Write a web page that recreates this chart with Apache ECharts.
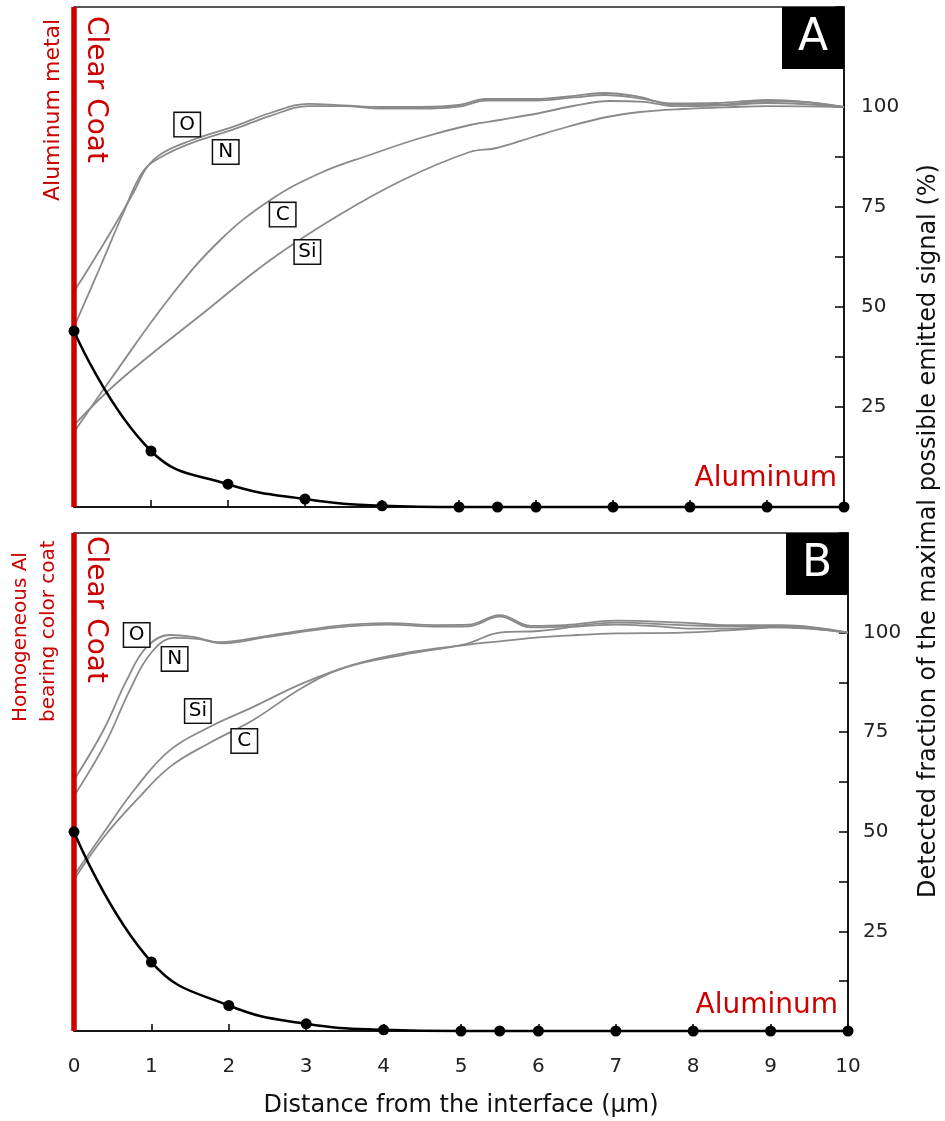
<!DOCTYPE html>
<html><head><meta charset="utf-8">
<script src="https://cdn.jsdelivr.net/npm/echarts@6/dist/echarts.min.js"></script>
<style>html,body{margin:0;padding:0;background:#fff}#c{width:945px;height:1121px}</style>
</head><body><div id="c"></div>
<script>
// ---- data ----
const dotX = [0, 1, 2, 3, 4, 5, 5.5, 6, 7, 8, 9, 10];
const alA = [44, 14, 5.7, 2, 0.3, 0, 0, 0, 0, 0, 0, 0];
const alB = [50, 17.3, 6.4, 1.8, 0.3, 0, 0, 0, 0, 0, 0, 0];

const aO = [[0,54],[0.12,57.5],[0.47,68.5],[0.77,78.5],[0.95,85],[1.15,88.5],[1.5,91.5],[2.1,95.3],[2.55,98.5],[3.05,100.8],[3.5,100.4],[4,100],[4.5,100],[5,100.5],[5.35,102],[6,102],[6.5,102.8],[6.9,103.5],[7.3,102.7],[7.8,100.6],[8.35,100.6],[9,101.5],[9.5,101.2],[10,100]];
const aN = [[0,45],[0.34,60],[0.64,73.5],[0.9,84],[1.15,87.7],[1.5,90.8],[2.1,94.6],[2.55,97.8],[3.05,100.2],[3.5,100.2],[4,99.6],[4.5,99.6],[5,100.1],[5.35,101.6],[6,101.6],[6.5,102.4],[6.9,103],[7.3,102.3],[7.8,100.9],[8.35,101],[9,101.8],[9.5,101.3],[10,100]];
const aC = [[0,18.75],[0.47,31.75],[1.25,52.5],[1.9,66.75],[2.55,76.75],[3.2,83.5],[3.84,88],[4.5,92.25],[5.14,95.5],[5.53,96.75],[6.05,98.5],[6.48,100.25],[6.96,101.5],[7.39,101.3],[7.83,100.2],[8.5,100.5],[9,101],[10,100]];
const aSi = [[0,20.5],[0.6,31.75],[1.68,48.5],[2.55,61.75],[3.4,72.5],[4.27,81.75],[5.14,88.75],[5.49,89.75],[5.96,92.5],[6.4,95],[6.92,97.5],[7.35,98.75],[7.9,99.5],[8.56,100],[9,100.2],[10,100]];

const bO = [[0,63],[0.38,75.5],[0.68,88],[0.94,96.4],[1.24,99.4],[1.54,98.9],[1.88,97.6],[2.5,99.2],[3.4,101.7],[4.05,102.4],[4.7,101.9],[5.1,102],[5.5,104.4],[5.9,101.7],[6.35,101.9],[7,103],[7.86,102.5],[8.5,101.9],[9.15,101.9],[10,100]];
const bN = [[0,59],[0.4,72],[0.72,85.5],[1.0,95],[1.3,98.7],[1.6,98.4],[1.92,97.3],[2.5,98.9],[3.4,101.3],[4.05,102],[4.7,101.5],[5.1,101.6],[5.5,104],[5.9,101.3],[6.35,101.5],[7,102.5],[7.86,101.9],[8.5,101.6],[9.15,101.6],[10,100]];
const bSi = [[0,39],[0.38,49.7],[0.81,61.3],[1.24,70.5],[1.75,76.3],[2.31,81.3],[2.96,87.3],[3.6,91.9],[4.25,94.8],[5.1,97],[5.5,97.8],[6,98.8],[6.5,99.4],[7,99.8],[7.86,100],[8.5,100.6],[9.15,101.3],[10,100]];
const bC = [[0,38],[0.38,48.5],[0.81,58],[1.24,66.3],[1.75,72.3],[2.31,78],[2.96,86.3],[3.5,91.2],[4.25,94.4],[5.07,97.2],[5.5,100],[6,100.4],[6.5,101.5],[7,102],[7.5,101.6],[8,101],[8.5,101],[9,101.4],[9.5,101],[10,100]];

const labelsA = [['O',1.47,95.6],['N',1.97,88.75],['C',2.71,73.1],['Si',3.03,63.75]];
const labelsB = [['O',0.81,99.4],['N',1.3,93.4],['Si',1.6,80.3],['C',2.2,72.8]];

const yTicks = [25, 50, 75, 100];
const interfaceX = 0;
const xTitle = 'Distance from the interface (µm)';
const yTitle = 'Detected fraction of the maximal possible emitted signal (%)';

// ---- chart ----
const FF = 'DejaVu Sans';
const RED = '#cc0000';
const GREY = '#8a8a8a';
const chart = echarts.init(document.getElementById('c'), null, {renderer: 'canvas'});

function xAx(g, showLabels) {
  return {
    gridIndex: g, type: 'value', min: 0, max: 10, interval: 1,
    axisLine: {show: true, onZero: false, lineStyle: {color: '#000', width: 1.5}},
    axisTick: {show: true, inside: true, length: 7, lineStyle: {color: '#000', width: 1.5}},
    axisLabel: {show: showLabels, margin: 26, fontSize: 20, fontFamily: FF, color: '#222'},
    splitLine: {show: false},
    name: showLabels ? xTitle : '', nameLocation: 'middle', nameGap: 63,
    nameTextStyle: {fontSize: 24, fontFamily: FF, color: '#111'}
  };
}
function yAx(g, margin) {
  return {
    gridIndex: g, type: 'value', position: 'right', min: 0, max: 125, interval: 25,
    axisLine: {show: true, onZero: false, lineStyle: {color: '#000', width: 1.5}},
    axisTick: {show: true, inside: true, length: 9, lineStyle: {color: '#000', width: 1.5}},
    minorTick: {show: true, splitNumber: 2, length: 9, lineStyle: {color: '#000', width: 1.5}},
    axisLabel: {margin: margin, fontSize: 20, fontFamily: FF, color: '#222',
      formatter: v => yTicks.indexOf(v) >= 0 ? String(v) : ''},
    splitLine: {show: false}, minorSplitLine: {show: false}
  };
}
function grey(g, d) {
  return {type: 'line', xAxisIndex: g, yAxisIndex: g, data: d, smooth: 0.4, symbol: 'none',
    lineStyle: {color: GREY, width: 1.8}, z: 2, silent: true};
}
function al(g, vals) {
  return {type: 'line', xAxisIndex: g, yAxisIndex: g, data: dotX.map((x, i) => [x, vals[i]]),
    smooth: 0.45, symbol: 'circle', symbolSize: 11, showAllSymbol: true,
    itemStyle: {color: '#000'}, lineStyle: {color: '#000', width: 2.5}, z: 6, clip: false};
}
function iface(g) {
  return {type: 'line', xAxisIndex: g, yAxisIndex: g, data: [[interfaceX, 0], [interfaceX, 125]],
    symbol: 'none', lineStyle: {color: RED, width: 5.5}, z: 4, clip: false, silent: true};
}
function labs(g, arr) {
  return {type: 'scatter', xAxisIndex: g, yAxisIndex: g, symbolSize: 1, z: 8, silent: true,
    itemStyle: {opacity: 0},
    data: arr.map(l => ({name: l[0], value: [l[1], l[2]]})),
    label: {show: true, position: 'inside', formatter: p => p.name, fontFamily: FF, fontSize: 20,
      color: '#000', opacity: 1, backgroundColor: '#fff', borderColor: '#111', borderWidth: 1.5,
      padding: [2, 4, 1, 4], width: 17, lineHeight: 20, align: 'center'}};
}

const option = {
  animation: false,
  backgroundColor: '#fff',
  grid: [
    {left: 74, top: 7, width: 770, height: 500, show: true, borderColor: '#222', borderWidth: 1.5, backgroundColor: 'transparent'},
    {left: 74, top: 533, width: 774, height: 498, show: true, borderColor: '#222', borderWidth: 1.5, backgroundColor: 'transparent'}
  ],
  xAxis: [xAx(0, false), xAx(1, true)],
  yAxis: [yAx(0, 17), yAx(1, 15)],
  series: [
    grey(0, aO), grey(0, aN), grey(0, aC), grey(0, aSi),
    grey(1, bO), grey(1, bN), grey(1, bSi), grey(1, bC),
    iface(0), iface(1),
    al(0, alA), al(1, alB),
    labs(0, labelsA), labs(1, labelsB)
  ],
  graphic: [
    {type: 'rect', shape: {x: 782, y: 7, width: 62, height: 62}, style: {fill: '#000'}, z: 20},
    {type: 'text', x: 813, y: 39, z: 21, style: {text: 'A', fill: '#fff', fontSize: 44, fontFamily: FF, align: 'center', verticalAlign: 'middle'}},
    {type: 'rect', shape: {x: 786, y: 533, width: 62, height: 62}, style: {fill: '#000'}, z: 20},
    {type: 'text', x: 817, y: 565, z: 21, style: {text: 'B', fill: '#fff', fontSize: 44, fontFamily: FF, align: 'center', verticalAlign: 'middle'}},
    {type: 'text', x: 95, y: 16, rotation: -Math.PI / 2, z: 21, style: {text: 'Clear Coat', fill: RED, fontSize: 28, fontFamily: FF, align: 'left', verticalAlign: 'middle'}},
    {type: 'text', x: 95, y: 536, rotation: -Math.PI / 2, z: 21, style: {text: 'Clear Coat', fill: RED, fontSize: 28, fontFamily: FF, align: 'left', verticalAlign: 'middle'}},
    {type: 'text', x: 53, y: 201, rotation: Math.PI / 2, z: 21, style: {text: 'Aluminum metal', fill: RED, fontSize: 22, fontFamily: FF, align: 'left', verticalAlign: 'middle'}},
    {type: 'text', x: 21, y: 722, rotation: Math.PI / 2, z: 21, style: {text: 'Homogeneous Al', fill: RED, fontSize: 20, fontFamily: FF, align: 'left', verticalAlign: 'middle'}},
    {type: 'text', x: 49, y: 722, rotation: Math.PI / 2, z: 21, style: {text: 'bearing color coat', fill: RED, fontSize: 20, fontFamily: FF, align: 'left', verticalAlign: 'middle'}},
    {type: 'text', x: 837, y: 479, z: 21, style: {text: 'Aluminum', fill: RED, fontSize: 28, fontFamily: FF, align: 'right', verticalAlign: 'middle'}},
    {type: 'text', x: 838, y: 1006, z: 21, style: {text: 'Aluminum', fill: RED, fontSize: 28, fontFamily: FF, align: 'right', verticalAlign: 'middle'}},
    {type: 'text', x: 929, y: 531, rotation: Math.PI / 2, z: 21, style: {text: yTitle, fill: '#111', fontSize: 24, fontFamily: FF, align: 'center', verticalAlign: 'middle'}}
  ]
};
chart.setOption(option);
</script></body></html>
